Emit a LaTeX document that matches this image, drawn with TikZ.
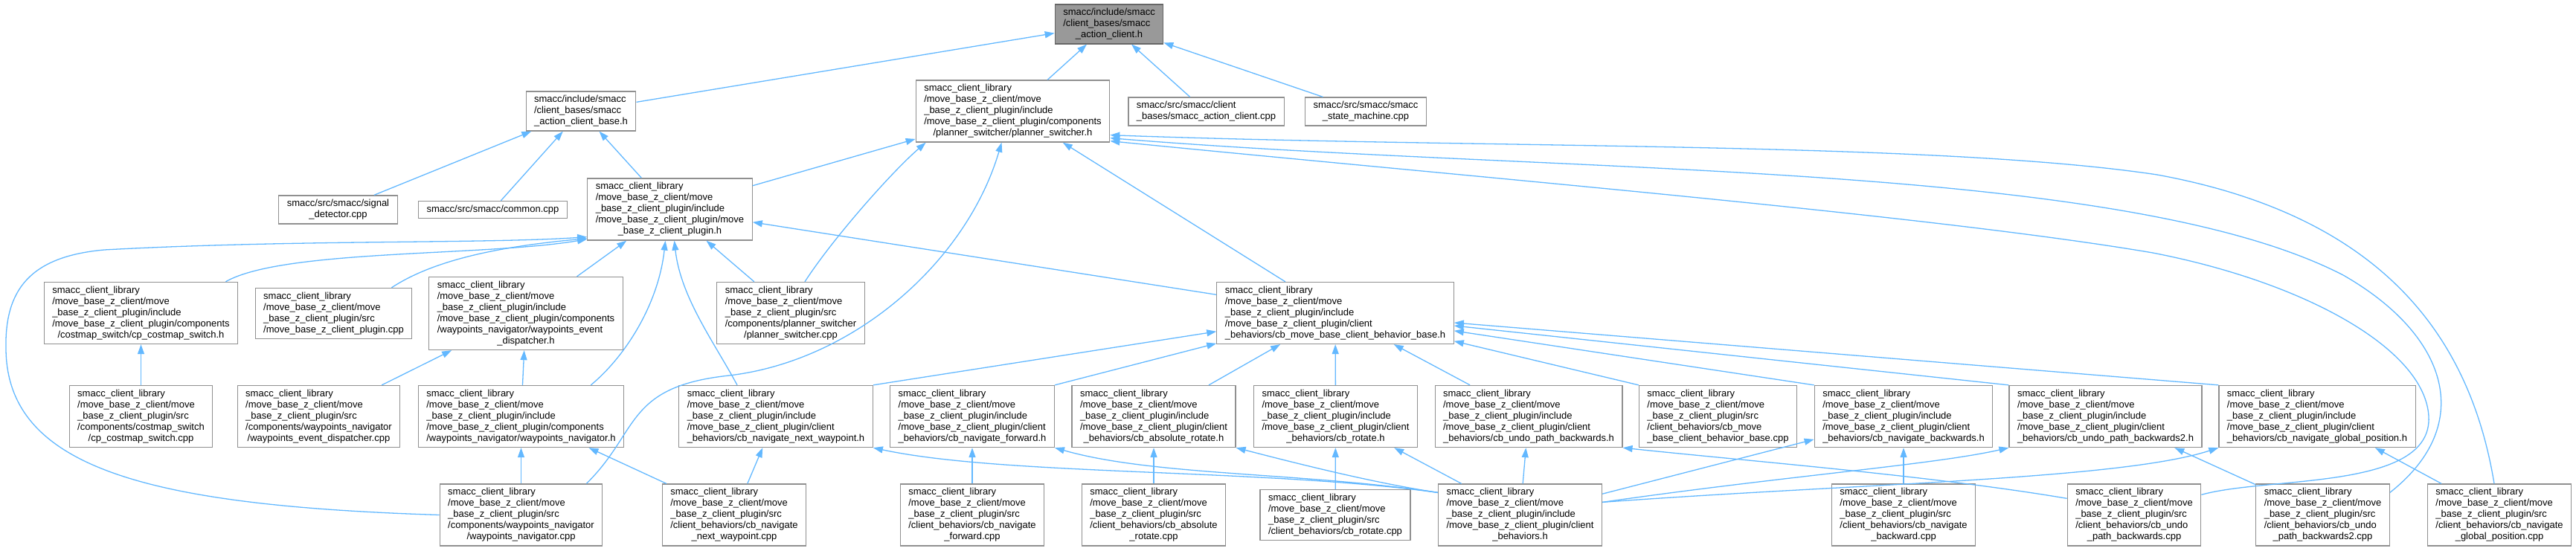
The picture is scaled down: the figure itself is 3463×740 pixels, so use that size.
\documentclass[tikz,border=0pt]{standalone}
\usepackage{fontspec}
\setmainfont{Liberation Sans}
\usetikzlibrary{arrows.meta}

\definecolor{edgeblue}{HTML}{63B8FF}
\definecolor{boxgray}{HTML}{909090}
\definecolor{curfill}{HTML}{999999}
\definecolor{curdraw}{HTML}{666666}

% last line of a label is centred, the others are flush left
\newcommand{\lastln}[1]{\hfill#1\hfill\null}
\newcommand{\incpath}{smacc\_client\_library\\/move\_base\_z\_client/move\\\_base\_z\_client\_plugin/include\\}
\newcommand{\srcpath}{smacc\_client\_library\\/move\_base\_z\_client/move\\\_base\_z\_client\_plugin/src\\}

\begin{document}
\begin{tikzpicture}[
    x=1pt, y=-1pt,
    file/.style={rectangle, draw=boxgray, fill=white, line width=1.2pt, inner xsep=11pt, inner ysep=5.5pt, align=left, font=\fontsize{13}{15}\selectfont},
    current/.style={file, fill=curfill, draw=curdraw},
    inc/.style={draw=edgeblue, line width=1.3pt, -{Triangle[length=13pt,width=9pt]}}
]
    \useasboundingbox (0,0) rectangle (3463,740);

    % top rows
    \node[current] (actcli) at (1491,32.5) {smacc/include/smacc\\/client\_bases/smacc\\\lastln{\_action\_client.h}};
    \node[file] (actbase) at (781,149.5) {smacc/include/smacc\\/client\_bases/smacc\\\lastln{\_action\_client\_base.h}};
    \node[file] (psw) at (1361.5,149.5) {\incpath/move\_base\_z\_client\_plugin/components\\\lastln{/planner\_switcher/planner\_switcher.h}};
    \node[file] (actclicpp) at (1621.5,150) {smacc/src/smacc/client\\\lastln{\_bases/smacc\_action\_client.cpp}};
    \node[file] (smcpp) at (1836,150) {smacc/src/smacc/smacc\\\lastln{\_state\_machine.cpp}};
    \node[file] (sigdet) at (454.5,282) {smacc/src/smacc/signal\\\lastln{\_detector.cpp}};
    \node[file] (common) at (662.5,282) {smacc/src/smacc/common.cpp};
    \node[file] (plugin) at (900.5,281.5) {\incpath/move\_base\_z\_client\_plugin/move\\\lastln{\_base\_z\_client\_plugin.h}};

    % middle row
    \node[file] (cmsw) at (189.5,421) {\incpath/move\_base\_z\_client\_plugin/components\\\lastln{/costmap\_switch/cp\_costmap\_switch.h}};
    \node[file] (plugincpp) at (448.5,421.5) {\srcpath\lastln{/move\_base\_z\_client\_plugin.cpp}};
    \node[file] (wpdisp) at (707,421.5) {\incpath/move\_base\_z\_client\_plugin/components\\/waypoints\_navigator/waypoints\_event\\\lastln{\_dispatcher.h}};
    \node[file] (pswcpp) at (1063,421) {\srcpath/components/planner\_switcher\\\lastln{/planner\_switcher.cpp}};
    \node[file] (cbbase) at (1795,421) {\incpath/move\_base\_z\_client\_plugin/client\\\lastln{\_behaviors/cb\_move\_base\_client\_behavior\_base.h}};

    % headers
    \node[file] (cmswcpp) at (189.5,560) {\srcpath/components/costmap\_switch\\\lastln{/cp\_costmap\_switch.cpp}};
    \node[file] (wpdispcpp) at (428.5,560) {\srcpath/components/waypoints\_navigator\\\lastln{/waypoints\_event\_dispatcher.cpp}};
    \node[file] (wpnav) at (700.5,560) {\incpath/move\_base\_z\_client\_plugin/components\\\lastln{/waypoints\_navigator/waypoints\_navigator.h}};
    \node[file] (nextwp) at (1043,560) {\incpath/move\_base\_z\_client\_plugin/client\\\lastln{\_behaviors/cb\_navigate\_next\_waypoint.h}};
    \node[file] (fwd) at (1307,560) {\incpath/move\_base\_z\_client\_plugin/client\\\lastln{\_behaviors/cb\_navigate\_forward.h}};
    \node[file] (absrot) at (1551,560) {\incpath/move\_base\_z\_client\_plugin/client\\\lastln{\_behaviors/cb\_absolute\_rotate.h}};
    \node[file] (rot) at (1795.5,560) {\incpath/move\_base\_z\_client\_plugin/client\\\lastln{\_behaviors/cb\_rotate.h}};
    \node[file] (undo) at (2055,560) {\incpath/move\_base\_z\_client\_plugin/client\\\lastln{\_behaviors/cb\_undo\_path\_backwards.h}};
    \node[file] (cbbasecpp) at (2309.5,560) {\srcpath/client\_behaviors/cb\_move\\\lastln{\_base\_client\_behavior\_base.cpp}};
    \node[file] (navback) at (2559,560) {\incpath/move\_base\_z\_client\_plugin/client\\\lastln{\_behaviors/cb\_navigate\_backwards.h}};
    \node[file] (undotwo) at (2830.5,560) {\incpath/move\_base\_z\_client\_plugin/client\\\lastln{\_behaviors/cb\_undo\_path\_backwards2.h}};
    \node[file] (globpos) at (3115,560) {\incpath/move\_base\_z\_client\_plugin/client\\\lastln{\_behaviors/cb\_navigate\_global\_position.h}};

    % bottom row
    \node[file] (wpnavcpp) at (700.5,692.5) {\srcpath/components/waypoints\_navigator\\\lastln{/waypoints\_navigator.cpp}};
    \node[file] (nextwpcpp) at (987,692.5) {\srcpath/client\_behaviors/cb\_navigate\\\lastln{\_next\_waypoint.cpp}};
    \node[file] (fwdcpp) at (1307,692.5) {\srcpath/client\_behaviors/cb\_navigate\\\lastln{\_forward.cpp}};
    \node[file] (absrotcpp) at (1551,692.5) {\srcpath/client\_behaviors/cb\_absolute\\\lastln{\_rotate.cpp}};
    \node[file] (rotcpp) at (1795,692.5) {\srcpath/client\_behaviors/cb\_rotate.cpp};
    \node[file] (clientbh) at (2043.5,692.5) {\incpath/move\_base\_z\_client\_plugin/client\\\lastln{\_behaviors.h}};
    \node[file] (navbackcpp) at (2559,692.5) {\srcpath/client\_behaviors/cb\_navigate\\\lastln{\_backward.cpp}};
    \node[file] (undocpp) at (2869,692.5) {\srcpath/client\_behaviors/cb\_undo\\\lastln{\_path\_backwards.cpp}};
    \node[file] (undotwocpp) at (3122.5,692.5) {\srcpath/client\_behaviors/cb\_undo\\\lastln{\_path\_backwards2.cpp}};
    \node[file] (globposcpp) at (3360,692.5) {\srcpath/client\_behaviors/cb\_navigate\\\lastln{\_global\_position.cpp}};

    % includes of the action client
    \draw[inc] (actbase) -- (actcli);
    \draw[inc] (psw) -- (actcli);
    \draw[inc] (actclicpp) -- (actcli);
    \draw[inc] (smcpp) -- (actcli);
    \draw[inc] (sigdet) -- (actbase);
    \draw[inc] (common) -- (actbase);
    \draw[inc] (plugin) -- (actbase);

    % planner switcher
    \draw[inc] (plugin) -- (psw);
    \draw[inc] (cbbase) -- (psw);
    \draw[inc] ([xshift=19pt]pswcpp.north) .. controls (1120,320) and (1200,230) .. ([xshift=14pt]psw.south west);
    \draw[inc] ([xshift=-22pt]wpnavcpp.north east) .. controls (860,580) and (840,520) .. (980,505) .. controls (1150,485) and (1300,350) .. ([xshift=-15pt]psw.south);
    \draw[inc] ([yshift=-15pt]undocpp.north east) .. controls (3050,640) and (3270,660) .. (3265,560) .. controls (3260,470) and (3100,380) .. (2894,340) .. controls (2600,290) and (2000,240) .. ([yshift=2pt]psw.south east);
    \draw[inc] ([yshift=-12pt]undotwocpp.north east) .. controls (3330,570) and (3290,450) .. (3150,370) .. controls (2850,215) and (2100,235) .. ([yshift=6pt]psw.south east);
    \draw[inc] ([xshift=-7pt]globposcpp.north) .. controls (3320,450) and (3200,290) .. (2900,235) .. controls (2600,190) and (2000,200) .. ([yshift=10pt]psw.south east);

    % plugin header
    \draw[inc] ([xshift=-17pt]cmsw.north east) .. controls (380,335) and (650,345) .. ([yshift=2pt]plugin.south west);
    \draw[inc] ([xshift=-28pt]plugincpp.north east) .. controls (590,345) and (690,330) .. ([yshift=3pt]plugin.south west);
    \draw[inc] (wpnavcpp.west) .. controls (200,680) and (10,630) .. (8,470) .. controls (6,390) and (40,345) .. (140,336) .. controls (400,322) and (650,328) .. ([yshift=5pt]plugin.south west);
    \draw[inc] (wpdisp) -- (plugin);
    \draw[inc] (pswcpp) -- (plugin);
    \draw[inc] (cbbase) -- (plugin);
    \draw[inc] ([xshift=-45pt]wpnav.north east) .. controls (840,480) and (885,410) .. ([xshift=-6pt]plugin.south);
    \draw[inc] ([xshift=-52pt]nextwp.north) .. controls (960,460) and (915,400) .. ([xshift=6pt]plugin.south);

    % components
    \draw[inc] (cmswcpp) -- (cmsw);
    \draw[inc] (wpdispcpp) -- (wpdisp);
    \draw[inc] (wpnav) -- (wpdisp);
    \draw[inc] (wpnavcpp) -- (wpnav);
    \draw[inc] (nextwpcpp) -- (wpnav);

    % client behavior base
    \draw[inc] (nextwp.north east) -- (cbbase);
    \draw[inc] (fwd.north east) -- (cbbase);
    \draw[inc] (absrot) -- (cbbase);
    \draw[inc] (rot) -- (cbbase);
    \draw[inc] (undo) -- (cbbase);
    \draw[inc] (cbbasecpp.north west) -- (cbbase);
    \draw[inc] (navback.north west) -- (cbbase);
    \draw[inc] (undotwo.north west) -- (cbbase);
    \draw[inc] (globpos.north west) -- (cbbase);

    % client behaviors
    \draw[inc] (nextwpcpp) -- (nextwp);
    \draw[inc] (fwdcpp) -- (fwd);
    \draw[inc] (absrotcpp) -- (absrot);
    \draw[inc] (rotcpp) -- (rot);
    \draw[inc] (navbackcpp) -- (navback);
    \draw[inc] (undotwocpp) -- (undotwo);
    \draw[inc] (globposcpp) -- (globpos);
    \draw[inc] ([yshift=-20pt]undocpp.north west) .. controls (2600,640) and (2350,620) .. (undo.south east);
    \draw[inc] ([yshift=-12pt]clientbh.north west) .. controls (1700,630) and (1350,640) .. (nextwp.south east);
    \draw[inc] ([yshift=-12pt]clientbh.north west) .. controls (1750,635) and (1550,640) .. (fwd.south east);
    \draw[inc] ([yshift=-12pt]clientbh.north west) .. controls (1850,650) and (1750,625) .. (absrot.south east);
    \draw[inc] (clientbh) -- (rot);
    \draw[inc] (clientbh) -- (undo);
    \draw[inc] (clientbh) -- (navback);
    \draw[inc] ([yshift=-25pt]clientbh.north east) .. controls (2400,640) and (2600,625) .. (undotwo.south west);
    \draw[inc] ([yshift=-25pt]clientbh.north east) .. controls (2500,650) and (2850,645) .. (globpos.south west);
\end{tikzpicture}
\end{document}
